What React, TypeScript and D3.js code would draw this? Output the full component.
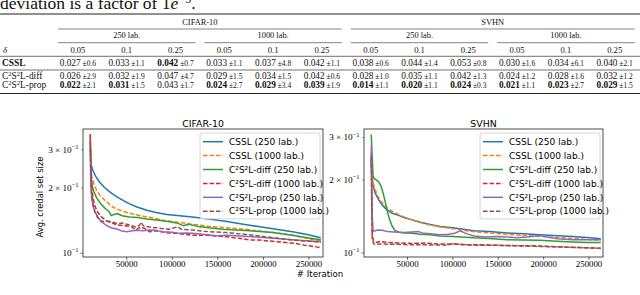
import * as d3 from "d3";

type Pt = [number, number];

// ---------- table ----------
const datasets = ["CIFAR-10", "SVHN"];
const labelSizes = ["250 lab.", "1000 lab."];
const deltas = ["0.05", "0.1", "0.25"];
const methods = ["CSSL", "C²S²L-diff", "C²S²L-prop"];

const csslMean = ["0.027", "0.033", "0.042", "0.033", "0.037", "0.042", "0.038", "0.044", "0.053", "0.030", "0.034", "0.040"];
const csslStd = ["0.6", "1.1", "0.7", "1.1", "4.8", "1.1", "0.6", "1.4", "0.8", "1.6", "6.1", "2.1"];
const diffMean = ["0.026", "0.032", "0.047", "0.029", "0.034", "0.042", "0.028", "0.035", "0.042", "0.024", "0.028", "0.032"];
const diffStd = ["2.9", "1.9", "4.7", "1.5", "1.5", "0.6", "1.0", "1.1", "1.3", "1.2", "1.6", "1.2"];
const propMean = ["0.022", "0.031", "0.043", "0.024", "0.029", "0.039", "0.014", "0.020", "0.024", "0.021", "0.023", "0.029"];
const propStd = ["2.1", "1.5", "1.7", "2.7", "3.4", "1.9", "1.1", "1.1", "0.3", "1.1", "2.7", "1.5"];
const csslBold = [false, false, true, false, false, false, false, false, false, false, false, false];
const diffBold = [false, false, false, false, false, false, false, false, false, false, false, false];
const propBold = [true, true, false, true, true, true, true, true, true, true, true, true];

// ---------- charts ----------
const iterTicks = [50000, 100000, 150000, 200000, 250000];
const yTickValues = [0.1, 0.2, 0.3];
const yTickMantissa = ["", "2", "3"];

const seriesNames = [
  "CSSL (250 lab.)",
  "CSSL (1000 lab.)",
  "C²S²L-diff (250 lab.)",
  "C²S²L-diff (1000 lab.)",
  "C²S²L-prop (250 lab.)",
  "C²S²L-prop (1000 lab.)",
];

const cifarCssl250: Pt[] = [
  [10000, 0.3], [11000, 0.255], [13000, 0.24], [16000, 0.226], [20000, 0.213], [25000, 0.202],
  [30000, 0.194], [35000, 0.187], [42000, 0.179], [53000, 0.169], [62000, 0.163], [72000, 0.158],
  [82000, 0.154], [94000, 0.151], [108000, 0.149], [122000, 0.147], [140000, 0.144], [160000, 0.14],
  [178000, 0.136], [196000, 0.1325], [214000, 0.129], [232000, 0.1256], [248000, 0.122], [263000, 0.118],
];
const cifarCssl1000: Pt[] = [
  [10000, 0.35], [10800, 0.24], [12000, 0.222], [14000, 0.208], [17000, 0.195], [21000, 0.184],
  [27000, 0.174], [35000, 0.163], [44000, 0.157], [53000, 0.153], [65000, 0.149], [80000, 0.145],
  [90000, 0.142], [105000, 0.139], [122000, 0.136], [140000, 0.133], [160000, 0.131], [180000, 0.129],
  [196000, 0.1265], [215000, 0.124], [232000, 0.121], [248000, 0.117], [263000, 0.114],
];
const cifarDiff250: Pt[] = [
  [10000, 0.33], [10800, 0.23], [12000, 0.205], [14000, 0.192], [17000, 0.18], [22000, 0.168],
  [27000, 0.16], [31000, 0.155], [33000, 0.149], [36000, 0.151], [40000, 0.152], [45000, 0.149],
  [53000, 0.147], [62000, 0.146], [72000, 0.144], [85000, 0.142], [95000, 0.14], [105000, 0.138],
  [112000, 0.134], [118000, 0.136], [128000, 0.133], [140000, 0.131], [155000, 0.129], [170000, 0.128],
  [185000, 0.127], [196000, 0.126], [210000, 0.1245], [232000, 0.121], [248000, 0.118], [263000, 0.1155],
];
const cifarDiff1000: Pt[] = [
  [10000, 0.355], [10600, 0.25], [11500, 0.2], [13000, 0.18], [15000, 0.165], [18000, 0.155],
  [22000, 0.147], [27000, 0.142], [33000, 0.138], [40000, 0.135], [48000, 0.134], [55000, 0.1325],
  [60000, 0.128], [65000, 0.132], [70000, 0.13], [75000, 0.1256], [82000, 0.127], [88000, 0.1256],
  [96000, 0.124], [105000, 0.1235], [115000, 0.122], [122000, 0.121], [135000, 0.121], [150000, 0.12],
  [160000, 0.119], [175000, 0.117], [185000, 0.115], [196000, 0.115], [210000, 0.1135], [225000, 0.112],
  [235000, 0.111], [245000, 0.109], [252000, 0.108], [258000, 0.107], [263000, 0.106],
];
const cifarProp250: Pt[] = [
  [10000, 0.285], [10500, 0.21], [11500, 0.18], [13000, 0.165], [15000, 0.156], [18000, 0.148],
  [22000, 0.14], [27000, 0.135], [33000, 0.131], [40000, 0.129], [45000, 0.1265], [50000, 0.1255],
  [56000, 0.127], [62000, 0.1275], [68000, 0.127], [75000, 0.128], [82000, 0.1275], [90000, 0.1255],
  [100000, 0.125], [108000, 0.1235], [115000, 0.124], [122000, 0.1235], [135000, 0.122], [150000, 0.1205],
  [160000, 0.121], [175000, 0.12], [196000, 0.1185], [215000, 0.117], [232000, 0.1155], [250000, 0.114],
  [263000, 0.113],
];
const cifarProp1000: Pt[] = [
  [10000, 0.34], [10600, 0.24], [11500, 0.19], [13000, 0.168], [15000, 0.155], [18000, 0.146],
  [21000, 0.141], [25000, 0.14], [30000, 0.1405], [35000, 0.139], [40000, 0.137], [45000, 0.138],
  [50000, 0.136], [55000, 0.1345], [60000, 0.132], [64000, 0.1345], [66000, 0.139], [68000, 0.134],
  [75000, 0.132], [82000, 0.131], [88000, 0.13], [96000, 0.129], [102000, 0.131], [106000, 0.1325],
  [110000, 0.129], [122000, 0.128], [141000, 0.1256], [160000, 0.1245], [178000, 0.1225], [196000, 0.12],
  [214000, 0.1175], [232000, 0.115], [248000, 0.1138], [263000, 0.1125],
];

const svhnCssl250: Pt[] = [
  [10000, 0.24], [10800, 0.205], [12000, 0.19], [14000, 0.178], [18000, 0.166], [22000, 0.158],
  [27000, 0.151], [33000, 0.146], [40000, 0.143], [46000, 0.14], [55000, 0.137], [64000, 0.134],
  [75000, 0.131], [86000, 0.1285], [100000, 0.127], [123000, 0.1235], [140000, 0.1225], [160000, 0.121],
  [178000, 0.12], [196000, 0.119], [215000, 0.1178], [232000, 0.1168], [248000, 0.1157], [263000, 0.1145],
];
const svhnCssl1000: Pt[] = [
  [10000, 0.25], [10800, 0.215], [12000, 0.197], [14000, 0.184], [17000, 0.172], [21000, 0.163],
  [27000, 0.154], [35000, 0.147], [46000, 0.141], [55000, 0.137], [64000, 0.1335], [75000, 0.1305],
  [86000, 0.128], [100000, 0.126], [123000, 0.1225], [140000, 0.121], [160000, 0.1195], [178000, 0.118],
  [196000, 0.117], [215000, 0.1158], [232000, 0.1148], [248000, 0.1138], [263000, 0.1128],
];
const svhnDiff250: Pt[] = [
  [10000, 0.309], [11000, 0.25], [12000, 0.208], [13500, 0.203], [16000, 0.2], [18500, 0.196],
  [20500, 0.19], [22500, 0.18], [25000, 0.165], [27500, 0.15], [30000, 0.138], [33000, 0.129],
  [36000, 0.124], [40000, 0.122], [46000, 0.121], [55000, 0.1205], [64000, 0.1195], [75000, 0.119],
  [86000, 0.1175], [100000, 0.117], [123000, 0.1155], [140000, 0.1148], [160000, 0.1135], [178000, 0.113],
  [196000, 0.1128], [215000, 0.1118], [232000, 0.111], [248000, 0.1105], [263000, 0.1105],
];
const svhnDiff1000: Pt[] = [
  [10000, 0.26], [10500, 0.17], [11200, 0.118], [12500, 0.112], [15000, 0.1105], [20000, 0.1115],
  [28000, 0.1105], [40000, 0.11], [55000, 0.1095], [70000, 0.1098], [86000, 0.1088], [100000, 0.1088],
  [115000, 0.108], [130000, 0.108], [150000, 0.1075], [170000, 0.1072], [190000, 0.107], [210000, 0.1062],
  [230000, 0.1055], [248000, 0.105], [263000, 0.1045],
];
const svhnProp250: Pt[] = [
  [10000, 0.279], [10500, 0.2], [11200, 0.14], [12000, 0.123], [14000, 0.1235], [17000, 0.1245],
  [22000, 0.124], [28000, 0.1225], [35000, 0.122], [45000, 0.1215], [55000, 0.122], [62000, 0.1225],
  [68000, 0.1205], [75000, 0.12], [86000, 0.119], [95000, 0.1195], [102000, 0.1205], [108000, 0.1235],
  [114000, 0.1205], [123000, 0.1175], [135000, 0.1165], [148000, 0.117], [160000, 0.1165], [170000, 0.1155],
  [182000, 0.1165], [196000, 0.118], [205000, 0.116], [215000, 0.1145], [232000, 0.1135], [248000, 0.1135],
  [263000, 0.1135],
];
const svhnProp1000: Pt[] = [
  [10000, 0.25], [10400, 0.17], [11000, 0.115], [12500, 0.109], [15000, 0.1085], [20000, 0.109],
  [28000, 0.1085], [40000, 0.1085], [55000, 0.108], [70000, 0.108], [86000, 0.1078], [96000, 0.108],
  [100000, 0.1095], [104000, 0.109], [115000, 0.108], [130000, 0.1075], [150000, 0.1075], [170000, 0.107],
  [190000, 0.1065], [210000, 0.106], [230000, 0.1055], [248000, 0.105], [263000, 0.1045],
];

const cifarSeries = [cifarCssl250, cifarCssl1000, cifarDiff250, cifarDiff1000, cifarProp250, cifarProp1000];
const svhnSeries = [svhnCssl250, svhnCssl1000, svhnDiff250, svhnDiff1000, svhnProp250, svhnProp1000];

// styles
const colors = ["#1f77b4", "#ff7f0e", "#2ca02c", "#d62728", "#9467bd", "#8c564b"];
const dashed = [false, true, false, true, false, true];
const sans = "'DejaVu Sans', sans-serif";
const serif = "'Liberation Serif', 'Times New Roman', serif";

const iterDomain: [number, number] = [2000, 265400];

// "C²S²L-diff" -> C, sup 2, S, sup 2, L-diff  (LaTeX-like superscripts)
function MethodLabel({ name }: { name: string }) {
  const parts = name.split("²");
  if (parts.length === 1) return <>{name}</>;
  return (
    <>
      {parts.map((p, i) => (
        <tspan key={i}>
          {i > 0 && (
            <tspan dy={-3.2} fontSize={6.6}>2</tspan>
          )}
          <tspan dy={i > 0 ? 3.2 : 0}>{p}</tspan>
        </tspan>
      ))}
    </>
  );
}

function Table() {
  const col = d3.scaleBand<number>().domain(d3.range(12)).range([53.5, 639.1]);
  const cx = (i: number) => (col(i) as number) + col.bandwidth() / 2;
  const groupW = col.bandwidth() * 6;
  const subW = col.bandwidth() * 3;
  const trim = 4.5;
  const rows = [
    { name: methods[0], mean: csslMean, std: csslStd, bold: csslBold, y: 65.6, nameBold: true },
    { name: methods[1], mean: diffMean, std: diffStd, bold: diffBold, y: 78.8, nameBold: false },
    { name: methods[2], mean: propMean, std: propStd, bold: propBold, y: 87.7, nameBold: false },
  ];
  return (
    <g fontFamily={serif} fill="#111">
      <text x={0} y={8.5} fontSize={17.5}>
        deviation is a factor of 1<tspan fontStyle="italic">e</tspan>
        <tspan dy={-6} fontSize={12}>−3</tspan>
        <tspan dy={6}>.</tspan>
      </text>
      <line x1={0} x2={640} y1={14} y2={14} stroke="#222" strokeWidth={1} />
      {datasets.map((d, g) => {
        const x0 = 53.5 + g * groupW;
        return (
          <g key={d}>
            <text x={x0 + groupW / 2} y={24.5} fontSize={8.4} textAnchor="middle">{d}</text>
            <line x1={x0 + trim} x2={x0 + groupW - trim} y1={29} y2={29} stroke="#333" strokeWidth={0.6} />
            {labelSizes.map((l, s) => {
              const sx = x0 + s * subW;
              return (
                <g key={l}>
                  <text x={sx + subW / 2} y={37.5} fontSize={8.4} textAnchor="middle">{l}</text>
                  <line x1={sx + trim} x2={sx + subW - trim} y1={42.7} y2={42.7} stroke="#333" strokeWidth={0.6} />
                </g>
              );
            })}
          </g>
        );
      })}
      <text x={3} y={52.5} fontSize={8.8} fontStyle="italic">δ</text>
      {d3.range(12).map((i) => (
        <text key={i} x={cx(i)} y={52.5} fontSize={8.6} textAnchor="middle">{deltas[i % 3]}</text>
      ))}
      <line x1={0} x2={640} y1={56.3} y2={56.3} stroke="#333" strokeWidth={0.7} />
      <line x1={0} x2={640} y1={70} y2={70} stroke="#333" strokeWidth={0.7} />
      {rows.map((r) => (
        <g key={r.name}>
          <text x={2} y={r.y} fontSize={9.4} fontWeight={r.nameBold ? "bold" : "normal"}>
            <MethodLabel name={r.name} />
          </text>
          {r.mean.map((m, i) => (
            <text key={i} x={cx(i)} y={r.y} textAnchor="middle">
              <tspan fontSize={9.3} fontWeight={r.bold[i] ? "bold" : "normal"}>{m}</tspan>
              <tspan fontSize={7.5}>{" ±" + r.std[i]}</tspan>
            </text>
          ))}
        </g>
      ))}
      <line x1={0} x2={640} y1={93.5} y2={93.5} stroke="#222" strokeWidth={1} />
    </g>
  );
}

interface ChartProps {
  id: string;
  title: string;
  series: Pt[][];
  yDomain: [number, number];
  left: number;
  right: number;
  top: number;
  bottom: number;
  yLabel?: string;
}

function Chart({ id, title, series, yDomain, left, right, top, bottom, yLabel }: ChartProps) {
  const x = d3.scaleLinear().domain(iterDomain).range([left, right]);
  const y = d3.scaleLog().domain(yDomain).range([bottom, top]);
  const line = d3.line<Pt>().x((d) => x(d[0])).y((d) => y(d[1]));

  const legW = 120;
  const legX = right - 3 - legW;
  const legY = top + 4;
  const rowH = 13.9;

  return (
    <g>
      <defs>
        <clipPath id={`clip-${id}`}>
          <rect x={left} y={top} width={right - left} height={bottom - top} />
        </clipPath>
      </defs>
      <text x={(left + right) / 2} y={top - 2.5} fontSize={9.4} fontFamily={sans} textAnchor="middle" fill="#000">
        {title}
      </text>
      <g clipPath={`url(#clip-${id})`}>
        {series.map((s, i) => (
          <path
            key={i}
            d={line(s) || ""}
            fill="none"
            stroke={colors[i]}
            strokeWidth={1.5}
            strokeDasharray={dashed[i] ? "4.5 2" : undefined}
            strokeLinejoin="round"
          />
        ))}
      </g>
      <rect x={left} y={top} width={right - left} height={bottom - top} fill="none" stroke="#222" strokeWidth={0.8} />
      {iterTicks.map((t) => (
        <g key={t}>
          <line x1={x(t)} x2={x(t)} y1={bottom} y2={bottom + 2.8} stroke="#222" strokeWidth={0.7} />
          <text x={x(t)} y={bottom + 9.6} fontSize={8.8} fontFamily={serif} textAnchor="middle" fill="#000">
            {t}
          </text>
        </g>
      ))}
      {yTickValues.map((v, i) => (
        <g key={v}>
          <line x1={left} x2={left - (i === 0 ? 2.8 : 1.6)} y1={y(v)} y2={y(v)} stroke="#222" strokeWidth={0.6} />
          <text x={left - 4.5} y={y(v) + 2.8} fontSize={9.2} fontFamily={serif} textAnchor="end" fill="#000">
            {yTickMantissa[i] ? `${yTickMantissa[i]} × 10` : "10"}
            <tspan dy={-3.6} fontSize={6.4}>−1</tspan>
          </text>
        </g>
      ))}
      {yLabel && (
        <text
          transform={`translate(${left - 40},${(top + bottom) / 2 + 4}) rotate(-90)`}
          fontSize={8.4}
          fontFamily={sans}
          textAnchor="middle"
          fill="#000"
        >
          {yLabel}
        </text>
      )}
      <rect x={legX} y={legY} width={legW} height={rowH * 6 + 2.5} rx={2} fill="#fff" fillOpacity={0.8} stroke="#ccc" strokeWidth={0.8} />
      {seriesNames.map((n, i) => {
        const cy = legY + 8.7 + i * rowH;
        return (
          <g key={n}>
            <line
              x1={legX + 3}
              x2={legX + 23}
              y1={cy}
              y2={cy}
              stroke={colors[i]}
              strokeWidth={1.5}
              strokeDasharray={dashed[i] ? "4.5 2" : undefined}
            />
            <text x={legX + 29} y={cy + 3.2} fontSize={9} fontFamily={sans} fill="#000">
              {n}
            </text>
          </g>
        );
      })}
    </g>
  );
}

export default function App() {
  return (
    <svg
      width={640}
      height={295}
      viewBox="0 0 640 295"
      style={{ position: "absolute", left: 0, top: 0, background: "#fff" }}
    >
      <Table />
      <Chart
        id="cifar"
        title="CIFAR-10"
        series={cifarSeries}
        yDomain={[0.0961, 0.374]}
        left={83}
        right={323}
        top={129}
        bottom={257}
        yLabel="Avg. credal set size"
      />
      <Chart
        id="svhn"
        title="SVHN"
        series={svhnSeries}
        yDomain={[0.0962, 0.3254]}
        left={364}
        right={603}
        top={129}
        bottom={257}
      />
      <text x={320} y={276.5} fontSize={8.6} fontFamily={sans} textAnchor="middle" fill="#000">
        # Iteration
      </text>
    </svg>
  );
}
